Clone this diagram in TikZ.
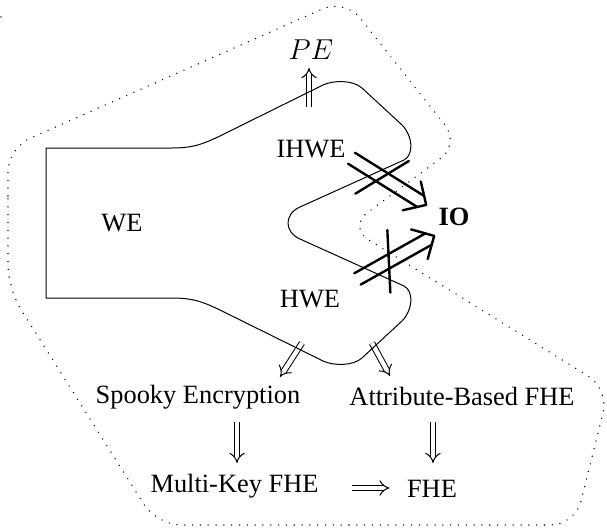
\documentclass[tikz,border=0pt]{standalone}
\usepackage{fontspec}
\setmainfont{Liberation Serif}
\usetikzlibrary{calc,arrows.meta}

\begin{document}
\begin{tikzpicture}[x=0.5pt,y=-0.5pt,
  lbl/.style={inner sep=0pt, anchor=base, font=\fontsize{13.2}{16}\selectfont},
  outline/.style={line width=0.5pt, line join=round},
  region/.style={line width=0.75pt, dash pattern=on 0.01pt off 3.9pt, line cap=round, rounded corners=12pt},
  impl/.style={double, double distance=2.2pt, line width=0.5pt, -{Implies}},
  xline/.style={line width=1.2pt, line cap=round, line join=round},
]
\useasboundingbox (0,0) rectangle (607,530);

% labels
\node[lbl] (pe)     at (311,60)    {\fontsize{14}{16}\selectfont$PE$};
\node[lbl] (ihwe)   at (311,157)   {IHWE};
\node[lbl] (we)     at (122,232)   {WE};
\node[lbl] (io)     at (454,226)   {\textbf{IO}};
\node[lbl] (hwe)    at (310,307)   {HWE};
\node[lbl] (spooky) at (198,403)   {Spooky Encryption};
\node[lbl] (attr)   at (462,406)   {Attribute-Based FHE};
\node[lbl] (multi)  at (234.5,493) {Multi-Key FHE};
\node[lbl] (fhe)    at (432,497)   {FHE};

% implications
\draw[impl] ($(pe.base)+(-2,47)$) -- ($(pe.base)+(-2,8)$);
\draw[impl] ($(spooky.base)+(104,-60)$) -- ($(spooky.base)+(82,-26)$);
\draw[impl] ($(attr.base)+(-90,-63)$) -- ($(attr.base)+(-72,-30)$);
\draw[impl] ($(spooky.base)+(39,19)$) -- ($(multi.base)+(2.5,-30)$);
\draw[impl] ($(attr.base)+(-29,16)$) -- ($(fhe.base)+(1,-34)$);
\draw[impl] ($(multi.base east)+(33,-5)$) -- ($(fhe.base west)+(-17,-9)$);

% the witness-encryption family
\draw[outline] (46,148) -- (172,148) .. controls (195,148) and (205,143) .. (220,136)
  -- (323,85) .. controls (334,80) and (353,80) .. (362,88)
  -- (402,125) .. controls (413,136) and (414,155) .. (404,160)
  -- (300,207) .. controls (284,214) and (284,232) .. (300,239)
  -- (404,286) .. controls (414,291) and (413,310) .. (402,321)
  -- (362,358) .. controls (353,366) and (334,366) .. (323,361)
  -- (220,310) .. controls (205,303) and (195,298) .. (172,298)
  -- (46,298) -- cycle;

% dotted region
\draw[region] (8,220) -- (8,148) -- (345,-1) -- (460,144) -- (348,227)
  -- (609,389) -- (575,525) -- (157,525) -- (8,289) -- cycle;
\fill[black!60] (1,17) circle (0.5pt);

% non-implications into IO
\coordinate (tipA) at ($(io.west)+(-12,-12.5)$);
\coordinate (tipB) at ($(io.west)+(-4,18.5)$);
\begin{scope}[shift={(tipA)}, rotate=-32, x=0.5pt, y=0.5pt]
  \draw[xline] (-88,6.5) -- (-7,6.5) (-88,-6.5) -- (-7,-6.5);
  \draw[xline] (-17,17) .. controls (-9,8) .. (0,0) .. controls (-9,-8) .. (-17,-17);
  \draw[xline] (-66,-28) -- (-38,28);
\end{scope}
\begin{scope}[shift={(tipB)}, rotate=29.3, x=0.5pt, y=0.5pt]
  \draw[xline] (-88,6.5) -- (-7,6.5) (-88,-6.5) -- (-7,-6.5);
  \draw[xline] (-17,17) .. controls (-9,8) .. (0,0) .. controls (-9,-8) .. (-17,-17);
  \draw[xline] (-66,-28) -- (-38,28);
\end{scope}
\end{tikzpicture}
\end{document}
